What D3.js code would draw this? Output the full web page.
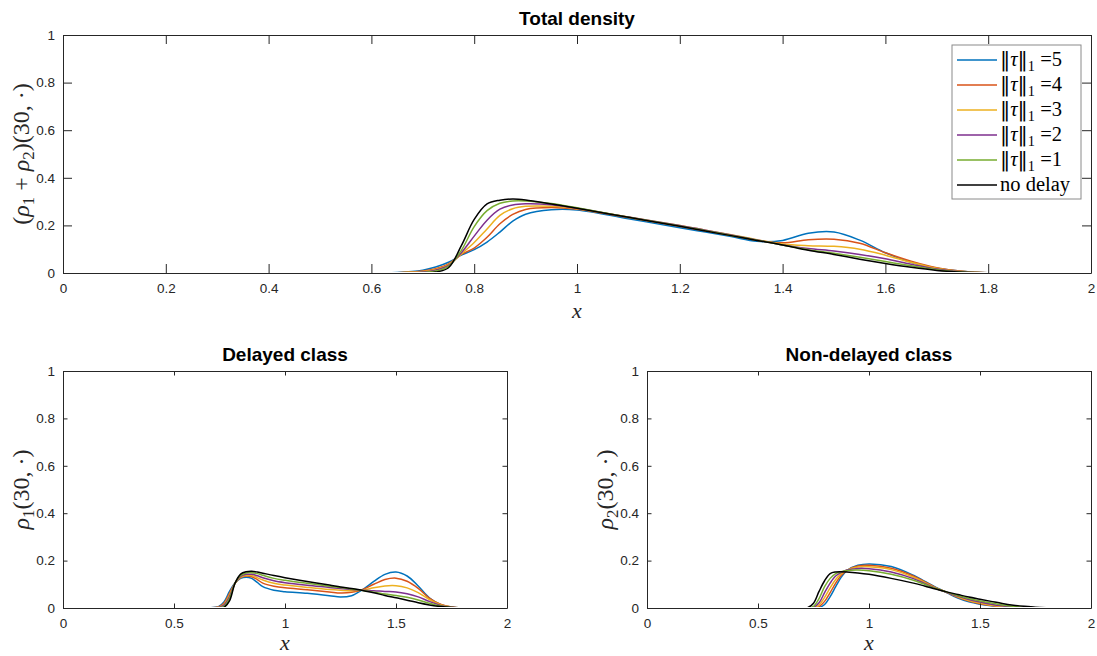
<!DOCTYPE html>
<html><head><meta charset="utf-8">
<script src="https://cdn.jsdelivr.net/npm/d3@7"></script>
<style>
html,body{margin:0;padding:0;background:#fff;}
svg{display:block;}
</style></head>
<body>
<svg id="chart" width="1097" height="656"></svg>
<script>
// ---------- data ----------
const xGrid = [0,0.6,0.65,0.7,0.725,0.75,0.775,0.8,0.825,0.85,0.875,0.9,0.95,1.0,1.1,1.2,1.25,1.3,1.35,1.4,1.45,1.5,1.55,1.6,1.65,1.7,1.75,1.8,1.85,2.0];

const seriesNames = ["tau5","tau4","tau3","tau2","tau1","nodelay"];
const seriesColors = ["#0072BD","#D95319","#EDB120","#7E2F8E","#77AC30","#000000"];
const legendValues = ["5","4","3","2","1"];

// Total density (rho1 + rho2)
const total5 = [0,0,0.002,0.012,0.025,0.045,0.075,0.098,0.13,0.172,0.218,0.247,0.266,0.265,0.228,0.19,0.172,0.153,0.133,0.137,0.167,0.172,0.138,0.085,0.045,0.02,0.007,0.001,0,0];
const total4 = [0,0,0.001,0.008,0.018,0.038,0.078,0.105,0.15,0.207,0.246,0.267,0.275,0.268,0.233,0.196,0.177,0.158,0.138,0.127,0.14,0.142,0.125,0.085,0.05,0.022,0.007,0.001,0,0];
const total3 = [0,0,0.001,0.006,0.015,0.035,0.08,0.128,0.185,0.242,0.27,0.28,0.28,0.27,0.235,0.2,0.18,0.161,0.14,0.122,0.115,0.112,0.1,0.075,0.045,0.02,0.006,0.001,0,0];
const total2 = [0,0,0,0.004,0.012,0.032,0.085,0.155,0.222,0.268,0.286,0.291,0.287,0.272,0.235,0.2,0.18,0.16,0.139,0.118,0.103,0.092,0.078,0.06,0.037,0.017,0.005,0.001,0,0];
const total1 = [0,0,0,0.002,0.008,0.028,0.095,0.195,0.262,0.293,0.303,0.303,0.292,0.274,0.234,0.198,0.178,0.158,0.138,0.118,0.098,0.083,0.066,0.048,0.03,0.014,0.004,0.001,0,0];
const total0 = [0,0,0,0,0.004,0.022,0.115,0.225,0.29,0.306,0.311,0.307,0.29,0.272,0.234,0.196,0.176,0.157,0.137,0.118,0.096,0.078,0.058,0.04,0.024,0.011,0.003,0,0,0];

// Delayed class rho1
const delayed5 = [0,0,0.001,0.005,0.025,0.07,0.105,0.125,0.13,0.125,0.108,0.09,0.075,0.069,0.062,0.052,0.046,0.052,0.078,0.112,0.142,0.152,0.135,0.093,0.043,0.015,0.004,0,0,0];
const delayed4 = [0,0,0.001,0.004,0.02,0.062,0.105,0.128,0.135,0.132,0.12,0.105,0.092,0.085,0.077,0.068,0.063,0.066,0.078,0.1,0.12,0.126,0.113,0.083,0.042,0.016,0.004,0,0,0];
const delayed3 = [0,0,0,0.003,0.016,0.055,0.105,0.13,0.138,0.137,0.128,0.118,0.104,0.097,0.087,0.078,0.075,0.073,0.076,0.085,0.093,0.094,0.085,0.065,0.036,0.014,0.004,0,0,0];
const delayed2 = [0,0,0,0.002,0.012,0.048,0.105,0.133,0.142,0.142,0.136,0.128,0.115,0.107,0.096,0.087,0.082,0.078,0.075,0.073,0.07,0.068,0.06,0.047,0.028,0.011,0.003,0,0,0];
const delayed1 = [0,0,0,0.001,0.007,0.04,0.105,0.138,0.148,0.149,0.145,0.138,0.125,0.117,0.104,0.092,0.086,0.08,0.074,0.067,0.059,0.053,0.045,0.034,0.02,0.008,0.002,0,0,0];
const delayed0 = [0,0,0,0,0.003,0.03,0.105,0.143,0.153,0.155,0.152,0.147,0.137,0.128,0.112,0.097,0.089,0.082,0.074,0.064,0.053,0.043,0.033,0.022,0.013,0.006,0.002,0.001,0,0];

// Non-delayed class rho2
const nondelayed5 = [0,0,0,0,0,0,0.002,0.015,0.048,0.09,0.13,0.158,0.18,0.186,0.175,0.138,0.113,0.088,0.065,0.042,0.026,0.016,0.009,0.004,0.002,0,0,0,0,0];
const nondelayed4 = [0,0,0,0,0,0,0.006,0.028,0.065,0.105,0.138,0.158,0.177,0.18,0.168,0.135,0.111,0.086,0.066,0.045,0.029,0.018,0.01,0.005,0.002,0,0,0,0,0];
const nondelayed3 = [0,0,0,0,0,0.001,0.012,0.045,0.085,0.12,0.145,0.16,0.173,0.174,0.162,0.13,0.108,0.085,0.066,0.047,0.032,0.021,0.012,0.006,0.003,0.001,0,0,0,0];
const nondelayed2 = [0,0,0,0,0,0.003,0.022,0.065,0.105,0.135,0.15,0.16,0.167,0.166,0.152,0.124,0.104,0.083,0.066,0.05,0.036,0.025,0.016,0.009,0.004,0.002,0,0,0,0];
const nondelayed1 = [0,0,0,0,0,0.007,0.04,0.09,0.125,0.145,0.153,0.158,0.16,0.157,0.142,0.117,0.1,0.082,0.067,0.053,0.04,0.03,0.021,0.013,0.007,0.003,0.001,0,0,0];
const nondelayed0 = [0,0,0,0,0.002,0.02,0.07,0.115,0.145,0.152,0.153,0.152,0.148,0.142,0.125,0.105,0.093,0.08,0.068,0.057,0.046,0.037,0.028,0.019,0.012,0.007,0.003,0.001,0,0];

const topXTicks = [0,0.2,0.4,0.6,0.8,1,1.2,1.4,1.6,1.8,2];
const bottomXTicks = [0,0.5,1,1.5,2];
const yTicks = [0,0.2,0.4,0.6,0.8,1];

// ---------- drawing ----------
const svg = d3.select("#chart");
const AX = "#262626";
const sansFont = "'Liberation Sans', Arial, Helvetica, sans-serif";
const serifFont = "'Liberation Serif', 'DejaVu Serif', serif";

function richText(g, parts, size) {
  parts.forEach(p => {
    const ts = g.append("tspan").text(p.t);
    if (p.i) ts.attr("font-style", "italic");
    if (p.f) ts.attr("font-family", p.f);
    if (p.sub) ts.attr("font-size", size * 0.7).attr("dy", size * 0.22);
    if (p.back) ts.attr("dy", -size * 0.22);
  });
}

const panels = [
  {left:63, right:1091, top:35, bottom:273, xTicks:topXTicks, tickLen:9,
   series:[total5,total4,total3,total2,total1,total0], title:"Total density",
   ylab:[{t:"("},{t:"ρ",i:true},{t:"1",sub:true},{t:" + ",back:true},{t:"ρ",i:true},{t:"2",sub:true},{t:")(30, ·)",back:true}],
   ylabX:22, xlabY:318, legend:true},
  {left:63, right:507, top:371, bottom:608, xTicks:bottomXTicks, tickLen:4.5,
   series:[delayed5,delayed4,delayed3,delayed2,delayed1,delayed0], title:"Delayed class",
   ylab:[{t:"ρ",i:true},{t:"1",sub:true},{t:"(30, ·)",back:true}], ylabX:22, xlabY:650},
  {left:647, right:1091, top:371, bottom:608, xTicks:bottomXTicks, tickLen:4.5,
   series:[nondelayed5,nondelayed4,nondelayed3,nondelayed2,nondelayed1,nondelayed0], title:"Non-delayed class",
   ylab:[{t:"ρ",i:true},{t:"2",sub:true},{t:"(30, ·)",back:true}], ylabX:606, xlabY:650}
];

const fmt = d => String(d);

panels.forEach(p => {
  const x = d3.scaleLinear().domain([0,2]).range([p.left, p.right]);
  const y = d3.scaleLinear().domain([0,1]).range([p.bottom, p.top]);
  const g = svg.append("g");

  // lines
  const clipId = "clip" + p.left + "_" + p.top;
  svg.append("clipPath").attr("id", clipId).append("rect")
    .attr("x", p.left).attr("y", p.top - 2).attr("width", p.right - p.left).attr("height", p.bottom - p.top + 1);
  const line = d3.line().x((d,i) => x(xGrid[i])).y(d => y(d)).curve(d3.curveCatmullRom.alpha(0.5));
  const lg = g.append("g").attr("clip-path", `url(#${clipId})`);
  p.series.forEach((s, k) => {
    lg.append("path").datum(s).attr("d", line)
      .attr("fill", "none").attr("stroke", seriesColors[k]).attr("stroke-width", 1.5)
      .attr("stroke-linejoin", "round");
  });

  // axes (box with inward ticks)
  const styleAxis = sel => {
    sel.selectAll(".domain").attr("stroke", AX).attr("stroke-width", 1);
    sel.selectAll(".tick line").attr("stroke", AX).attr("stroke-width", 1);
    sel.selectAll(".tick text").attr("fill", AX).attr("font-family", sansFont).attr("font-size", 13.5);
  };
  g.append("g").attr("transform", `translate(0,${p.bottom})`)
    .call(d3.axisBottom(x).tickValues(p.xTicks).tickFormat(fmt).tickSizeInner(-p.tickLen).tickSizeOuter(0).tickPadding(10))
    .call(styleAxis);
  g.append("g").attr("transform", `translate(0,${p.top})`)
    .call(d3.axisTop(x).tickValues(p.xTicks).tickFormat("").tickSizeInner(-p.tickLen).tickSizeOuter(0))
    .call(styleAxis);
  g.append("g").attr("transform", `translate(${p.left},0)`)
    .call(d3.axisLeft(y).tickValues(yTicks).tickFormat(fmt).tickSizeInner(-p.tickLen).tickSizeOuter(0).tickPadding(8))
    .call(styleAxis);
  g.append("g").attr("transform", `translate(${p.right},0)`)
    .call(d3.axisRight(y).tickValues(yTicks).tickFormat("").tickSizeInner(-p.tickLen).tickSizeOuter(0))
    .call(styleAxis);

  // title
  g.append("text").attr("x", (p.left + p.right) / 2).attr("y", p.top - 10)
    .attr("text-anchor", "middle").attr("font-family", sansFont).attr("font-weight", "bold")
    .attr("font-size", 19).attr("fill", "#000").text(p.title);

  // x label
  g.append("text").attr("x", (p.left + p.right) / 2).attr("y", p.xlabY)
    .attr("text-anchor", "middle").attr("font-family", serifFont).attr("font-style", "italic")
    .attr("font-size", 22).attr("fill", AX).text("x");

  // y label
  const cy = (p.top + p.bottom) / 2;
  const yl = g.append("text").attr("transform", `translate(${p.ylabX + 7},${cy}) rotate(-90)`)
    .attr("text-anchor", "middle").attr("font-family", serifFont)
    .attr("font-size", 24).attr("fill", AX);
  richText(yl, p.ylab, 24);

  // legend
  if (p.legend) {
    const lx = 952, ly = 45, lw = 129, lh = 154;
    const leg = g.append("g");
    leg.append("rect").attr("x", lx).attr("y", ly).attr("width", lw).attr("height", lh)
      .attr("fill", "#fff").attr("stroke", "#8a8a8a").attr("stroke-width", 1);
    const bars = "'DejaVu Serif', serif";
    const labels = legendValues.map(v => [{t:"‖",f:bars},{t:"τ",i:true},{t:"‖",f:bars},{t:"1",sub:true},{t:" =" + v,back:true}]);
    labels.push([{t:"no delay"}]);
    labels.forEach((parts, k) => {
      const yy = ly + 15 + k * 25;
      leg.append("line").attr("x1", lx + 5).attr("x2", lx + 45).attr("y1", yy).attr("y2", yy)
        .attr("stroke", seriesColors[k]).attr("stroke-width", 1.5);
      const t = leg.append("text").attr("x", lx + 48).attr("y", yy + 6)
        .attr("font-family", serifFont).attr("font-size", 20.5).attr("fill", "#000");
      richText(t, parts, 20.5);
    });
  }
});
</script>
</body></html>
